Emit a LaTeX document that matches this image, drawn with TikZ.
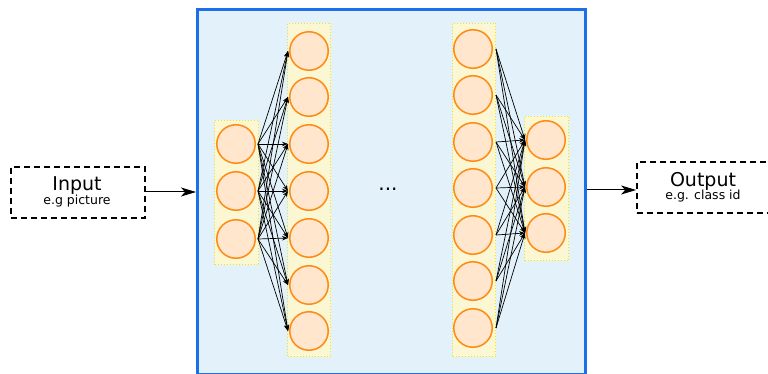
\documentclass[tikz,border=0pt]{standalone}
\usepackage{fontspec}
\setmainfont{DejaVu Sans}
\usetikzlibrary{arrows.meta,calc}
\definecolor{netblue}{HTML}{1C6FE8}
\definecolor{netfill}{HTML}{E3F2FA}
\definecolor{layerfill}{HTML}{FAF7D2}
\definecolor{layerline}{HTML}{F2E41A}
\definecolor{unitfill}{HTML}{FFE6CC}
\definecolor{unitline}{HTML}{FF8A14}
\tikzset{
  netbox/.style={draw=netblue, fill=netfill, line width=3pt},
  layerbox/.style={draw=layerline, fill=layerfill, line width=1pt, dotted},
  unit/.style={circle, draw=unitline, fill=unitfill, line width=1.5pt, minimum size=38.5pt, inner sep=0pt},
  iobox/.style={draw=black, dash pattern=on 6pt off 4pt, line width=1.8pt, minimum width=134pt, minimum height=51pt, inner sep=0pt},
  link/.style={-{Stealth[length=6pt,width=4.5pt]}, line width=0.7pt, black},
  flow/.style={-{Stealth[length=15pt,width=9pt,inset=4pt]}, line width=1pt, black},
  bigtxt/.style={font=\fontsize{19}{19}\selectfont},
  smalltxt/.style={font=\fontsize{12.5}{12.5}\selectfont},
}
\begin{document}
\begin{tikzpicture}[x=1pt,y=-1pt]
\useasboundingbox (0,0) rectangle (768,374);
\clip (0,0) rectangle (768,374);

% network frame
\node[netbox, minimum width=388pt, minimum height=365pt, inner sep=0pt, anchor=north west] (net) at (196,8) {};

% layer strips
\node[layerbox, minimum width=44pt, minimum height=144pt, inner sep=0pt, anchor=north west] (la) at (214,120) {};
\node[layerbox, minimum width=43pt, minimum height=333pt, inner sep=0pt, anchor=north west] (lb) at (287,23) {};
\node[layerbox, minimum width=43pt, minimum height=333pt, inner sep=0pt, anchor=north west] (lc) at (452,23) {};
\node[layerbox, minimum width=44pt, minimum height=144pt, inner sep=0pt, anchor=north west] (ld) at (524,116) {};

% units
\foreach \i/\y in {1/144,2/191,3/239} \node[unit] (a\i) at (236,\y) {};
\foreach \i/\y in {1/51,2/97,3/144,4/191,5/238,6/285,7/331} \node[unit] (b\i) at (309,\y) {};
\foreach \i/\y in {1/49,2/95,3/142,4/188,5/235,6/281,7/328} \node[unit] (c\i) at (473,\y) {};
\foreach \i/\y in {1/140,2/187,3/233} \node[unit] (d\i) at (546,\y) {};

% connections
\foreach \i in {1,2,3} \foreach \j in {1,...,7}
  \draw[link] ([xshift=2pt]a\i.east) -- ([xshift=-1pt]b\j.west);
\foreach \i in {1,...,7} \foreach \j in {1,2,3}
  \draw[link] ([xshift=3pt]c\i.east) -- ([xshift=-1pt]d\j.west);

\node[font=\fontsize{20}{20}\selectfont] (dots) at (388,189) {...};

% input and output
\node[iobox] (in) at (78,192.5) {};
\node[bigtxt] (intxt) at (77,186) {Input};
\node[smalltxt] (insub) at (77,201) {e.g picture};
\node[iobox] (out) at (704,187.5) {};
\node[bigtxt] (outtxt) at (703,181) {Output};
\node[smalltxt] (outsub) at (703,196) {e.g. class id};

\draw[flow] (in.east |- 0,192) -- (net.west |- 0,192);
\draw[flow] (net.east |- 0,190) -- (out.west |- 0,190);
\end{tikzpicture}
\end{document}
